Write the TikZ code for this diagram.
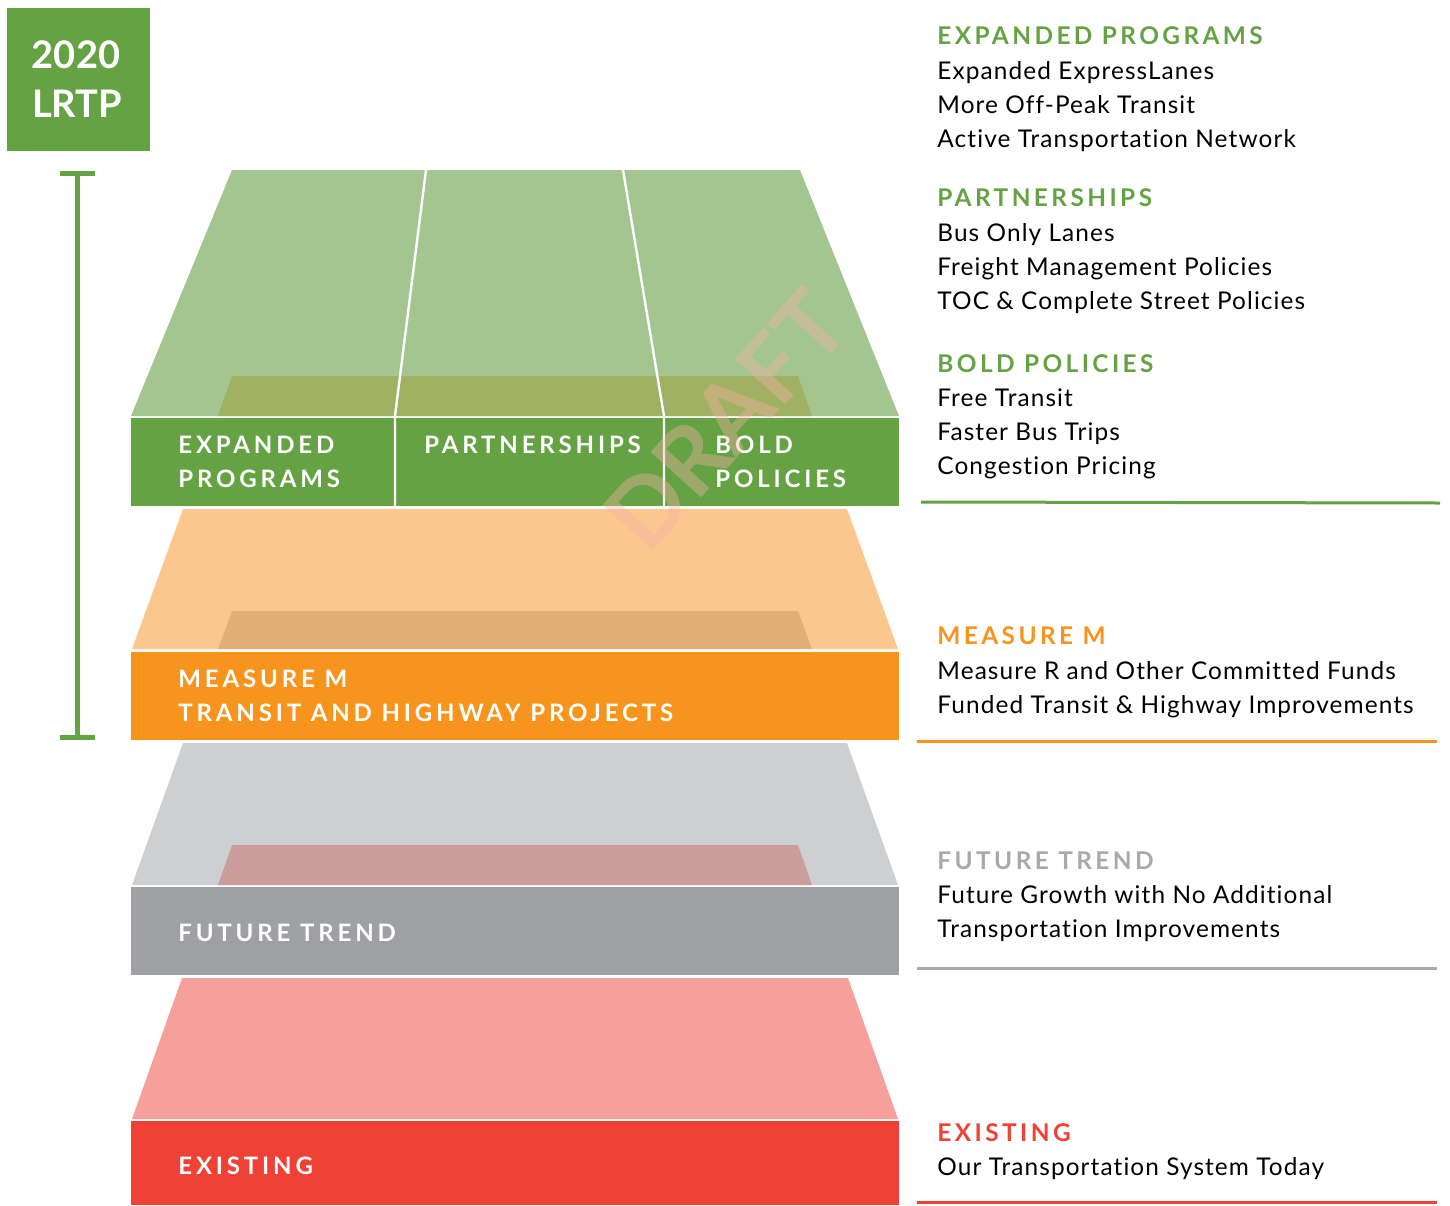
\documentclass[tikz,border=0pt]{standalone}
\usepackage{fontspec}
\setmainfont{Lato}
\newfontfamily\bodyfont[LetterSpace=4.5, Ligatures=NoCommon]{Lato}
\newfontfamily\headfont[LetterSpace=14]{Lato}
\newfontfamily\bandfont[LetterSpace=16]{Lato}
\usepackage{tikz}

\definecolor{lrtpgreen}{HTML}{64A243}
\definecolor{palegreen}{HTML}{A3C58F}
\definecolor{olivegreen}{HTML}{A1B163}
\definecolor{mmorange}{HTML}{F7941D}
\definecolor{paleorange}{HTML}{FAC78F}
\definecolor{tanorange}{HTML}{E2B077}
\definecolor{trendgray}{HTML}{9FA0A3}
\definecolor{palegray}{HTML}{CDCFD1}
\definecolor{rosegray}{HTML}{CB9D9C}
\definecolor{headgray}{HTML}{A7A9AC}
\definecolor{existred}{HTML}{EF4136}
\definecolor{palered}{HTML}{F6A09B}
\definecolor{draftpink}{HTML}{F5B2A6}

\begin{document}
\begin{tikzpicture}[x=0.5pt, y=-0.5pt]
	\tikzstyle{bodytext} = [anchor=base west, inner sep=0pt, font=\bodyfont\fontsize{12.2}{14}\selectfont]
	\tikzstyle{headtext} = [anchor=base west, inner sep=0pt, font=\headfont\bfseries\fontsize{12.2}{14}\selectfont]
	\tikzstyle{bandtext} = [anchor=base west, inner sep=0pt, text=white, font=\bandfont\bfseries\fontsize{12}{14}\selectfont]
	\tikzstyle{divider} = [white, line width=1.2pt]
	\tikzstyle{rule} = [line width=1.5pt]
	\tikzstyle{bracket} = [lrtpgreen, line width=2.5pt]
	\useasboundingbox (0,0) rectangle (1450,1205);
	% year box and bracket
	\node[fill=lrtpgreen, minimum width=71.5pt, minimum height=71.5pt, inner sep=0pt] (lrtp) at (78.5,79.5) {};
	\node[anchor=base, inner sep=0pt, text=white, font=\bfseries\fontsize{19}{19}\selectfont] (year) at (76,68) {2020};
	\node[anchor=base, inner sep=0pt, text=white, font=\bfseries\fontsize{19}{19}\selectfont] (plan) at (77,117) {LRTP};
	\draw[bracket] (60,173) -- (95,173);
	\draw[bracket] (77.5,173) -- (77.5,737);
	\draw[bracket] (60,737) -- (95,737);
	% green layer
	\fill[palegreen] (232,170) -- (800,170) -- (899,416) -- (131,416) -- cycle;
	\fill[olivegreen] (232,376) -- (798,376) -- (812,416) -- (218,416) -- cycle;
	\fill[lrtpgreen] (131,418) rectangle (899,506);
	\draw[divider] (426,170) -- (395,416) -- (395,506);
	\draw[divider] (623,170) -- (664,416) -- (664,506);
	% orange layer
	\fill[paleorange] (183,509) -- (847,509) -- (898,649) -- (132,649) -- cycle;
	\fill[tanorange] (232,611) -- (798,611) -- (812,649) -- (218,649) -- cycle;
	\fill[mmorange] (131,652) rectangle (899,740);
	% gray layer
	\fill[palegray] (183,743) -- (847,743) -- (898,885) -- (132,885) -- cycle;
	\fill[rosegray] (232,845) -- (798,845) -- (812,885) -- (218,885) -- cycle;
	\fill[trendgray] (131,887) rectangle (899,975);
	% red layer
	\fill[palered] (182,978) -- (848,978) -- (898,1119) -- (132,1119) -- cycle;
	\fill[existred] (131,1121) rectangle (899,1205);
	% band labels
	\node[bandtext] (bandexp1) at (178,453) {EXPANDED};
	\node[bandtext] (bandexp2) at (178,487) {PROGRAMS};
	\node[bandtext] (bandpart) at (424,453) {PARTNERSHIPS};
	\node[bandtext] (bandbold1) at (715,453) {BOLD};
	\node[bandtext] (bandbold2) at (715,487) {POLICIES};
	\node[bandtext] (bandmm1) at (178,687) {MEASURE M};
	\node[bandtext] (bandmm2) at (178,721) {TRANSIT AND HIGHWAY PROJECTS};
	\node[bandtext] (bandtrend) at (178,941) {FUTURE TREND};
	\node[bandtext] (bandexist) at (178,1174) {EXISTING};
	% watermark
	\node[rotate=48, text=draftpink, text opacity=0.4, inner sep=0pt, font=\bfseries\fontsize{47}{47}\selectfont] (draft) at (726,420) {DRAFT};
	% right column
	\node[headtext, text=lrtpgreen] (hexp) at (937,44) {EXPANDED PROGRAMS};
	\node[bodytext] (exp1) at (937,79) {Expanded ExpressLanes};
	\node[bodytext] (exp2) at (937,113) {More Off-Peak Transit};
	\node[bodytext] (exp3) at (937,147) {Active Transportation Network};
	\node[headtext, text=lrtpgreen] (hpart) at (937,206) {PARTNERSHIPS};
	\node[bodytext] (part1) at (937,241) {Bus Only Lanes};
	\node[bodytext] (part2) at (937,275) {Freight Management Policies};
	\node[bodytext] (part3) at (937,309) {TOC \& Complete Street Policies};
	\node[headtext, text=lrtpgreen] (hbold) at (937,372) {BOLD POLICIES};
	\node[bodytext] (bold1) at (937,406) {Free Transit};
	\node[bodytext] (bold2) at (937,440) {Faster Bus Trips};
	\node[bodytext] (bold3) at (937,474) {Congestion Pricing};
	\draw[rule, lrtpgreen] (921,502) -- (1440,503);
	\node[headtext, text=mmorange] (hmm) at (937,644) {MEASURE M};
	\node[bodytext] (mm1) at (937,679) {Measure R and Other Committed Funds};
	\node[bodytext] (mm2) at (937,713) {Funded Transit \& Highway Improvements};
	\draw[rule, mmorange] (917,741) -- (1437,741);
	\node[headtext, text=headgray] (htrend) at (937,869) {FUTURE TREND};
	\node[bodytext] (trend1) at (937,903) {Future Growth with No Additional};
	\node[bodytext] (trend2) at (937,937) {Transportation Improvements};
	\draw[rule, headgray] (917,968) -- (1437,968);
	\node[headtext, text=existred] (hexist) at (937,1141) {EXISTING};
	\node[bodytext] (exist1) at (937,1175) {Our Transportation System Today};
	\draw[rule, existred] (917,1202) -- (1437,1202);
\end{tikzpicture}
\end{document}
